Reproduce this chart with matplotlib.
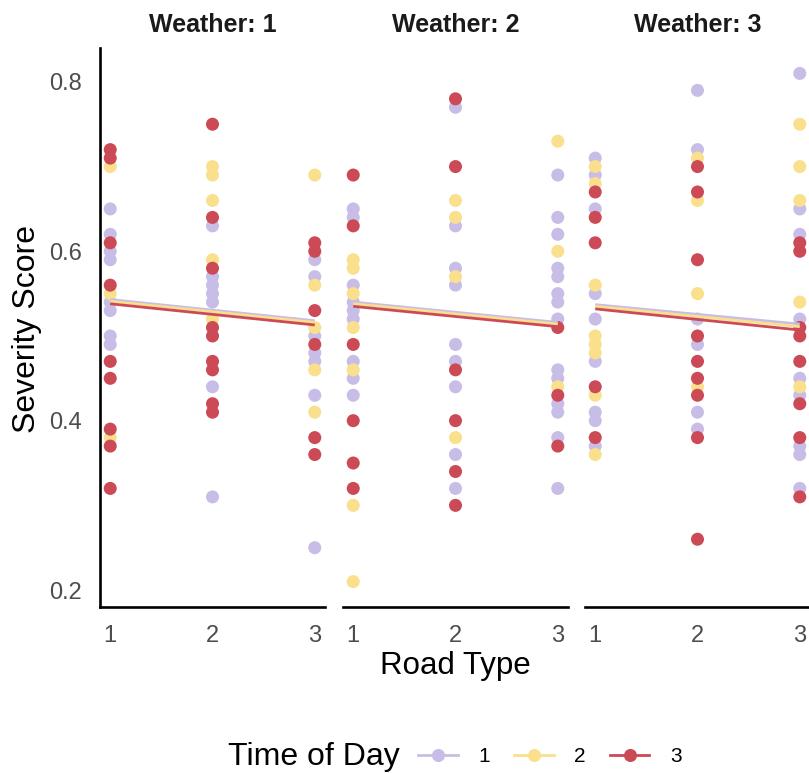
import numpy as np
import matplotlib
matplotlib.use('Agg')
import matplotlib.pyplot as plt
from matplotlib.lines import Line2D
from matplotlib import font_manager

# pick a narrow sans if the system has one
_names = {f.name for f in font_manager.fontManager.ttflist}
FONT = 'Liberation Sans Narrow' if 'Liberation Sans Narrow' in _names else 'Liberation Sans'
plt.rcParams['font.family'] = [FONT, 'DejaVu Sans']

# ---------------------------------------------------------------------------
# Severity scores, per weather panel -> [road 1, road 2, road 3] for each time
# ---------------------------------------------------------------------------
W1_T1 = [[0.65, 0.62, 0.60, 0.59, 0.54, 0.53, 0.50, 0.49],
         [0.63, 0.57, 0.56, 0.55, 0.54, 0.44, 0.31],
         [0.59, 0.57, 0.50, 0.48, 0.47, 0.43, 0.25]]
W1_T2 = [[0.70, 0.55, 0.38],
         [0.70, 0.69, 0.66, 0.59, 0.52],
         [0.69, 0.56, 0.51, 0.46, 0.41]]
W1_T3 = [[0.72, 0.71, 0.61, 0.56, 0.47, 0.45, 0.39, 0.37, 0.32],
         [0.75, 0.64, 0.58, 0.51, 0.50, 0.47, 0.46, 0.42, 0.41],
         [0.61, 0.60, 0.53, 0.49, 0.38, 0.36]]

W2_T1 = [[0.65, 0.64, 0.56, 0.54, 0.53, 0.52, 0.47, 0.45, 0.43],
         [0.77, 0.63, 0.58, 0.56, 0.49, 0.47, 0.44, 0.36, 0.32],
         [0.69, 0.64, 0.62, 0.58, 0.57, 0.55, 0.54, 0.52, 0.46, 0.45, 0.42, 0.41, 0.38, 0.32]]
W2_T2 = [[0.59, 0.58, 0.55, 0.51, 0.46, 0.30, 0.21],
         [0.66, 0.64, 0.57, 0.38],
         [0.73, 0.60, 0.44]]
W2_T3 = [[0.69, 0.63, 0.49, 0.40, 0.35, 0.32],
         [0.78, 0.70, 0.46, 0.40, 0.34, 0.30],
         [0.51, 0.43, 0.37]]

W3_T1 = [[0.71, 0.69, 0.65, 0.55, 0.52, 0.47, 0.41, 0.40, 0.37],
         [0.79, 0.72, 0.52, 0.49, 0.41, 0.39],
         [0.81, 0.65, 0.62, 0.52, 0.45, 0.43, 0.37, 0.36, 0.32]]
W3_T2 = [[0.70, 0.68, 0.56, 0.50, 0.49, 0.48, 0.43, 0.36],
         [0.71, 0.66, 0.55, 0.44],
         [0.75, 0.70, 0.66, 0.54, 0.44]]
W3_T3 = [[0.67, 0.64, 0.61, 0.44, 0.38],
         [0.70, 0.67, 0.59, 0.50, 0.47, 0.45, 0.43, 0.38, 0.26],
         [0.61, 0.60, 0.51, 0.50, 0.47, 0.42, 0.38, 0.31]]

PANELS = [[W1_T1, W1_T2, W1_T3], [W2_T1, W2_T2, W2_T3], [W3_T1, W3_T2, W3_T3]]

# fitted trend (lm) at road 1 and road 3, per panel, per time of day
FIT_START = [[0.543, 0.541, 0.538], [0.540, 0.538, 0.535], [0.537, 0.535, 0.532]]
FIT_END   = [[0.518, 0.516, 0.513], [0.516, 0.514, 0.511], [0.514, 0.511, 0.507]]

ROADS     = [1, 2, 3]
TIMES     = ['1', '2', '3']
WEATHERS  = ['Weather: 1', 'Weather: 2', 'Weather: 3']
Y_TICKS   = [0.2, 0.4, 0.6, 0.8]

COLORS = ['#c8bde6', '#fadf8c', '#cc4a56']

# ---------------------------------------------------------------------------
fig = plt.figure(figsize=(8.09, 7.73), dpi=100)
W, H = 809, 773

lefts = [100 / W, 343 / W, 585 / W]
width = 225 / W
bottom = 1 - 607 / H
height = (607 - 48) / H

axes = []
for p, (panel, left) in enumerate(zip(PANELS, lefts)):
    ax = fig.add_axes([left, bottom, width, height])
    axes.append(ax)

    for t, series in enumerate(panel):
        xs, ys = [], []
        for road, vals in zip(ROADS, series):
            xs += [road] * len(vals)
            ys += vals
        ax.scatter(xs, ys, s=88, color=COLORS[t], edgecolor='none', zorder=2,
                   clip_on=False)

    for t in range(len(TIMES)):
        ax.plot([ROADS[0], ROADS[-1]], [FIT_START[p][t], FIT_END[p][t]],
                color=COLORS[t], lw=2.0, zorder=3, solid_capstyle='butt')

    ax.set_xlim(0.9, 3.1)
    ax.set_ylim(0.18, 0.84)
    ax.set_xticks(ROADS)
    ax.set_xticklabels([str(r) for r in ROADS])
    ax.set_yticks(Y_TICKS)
    ax.tick_params(length=0, labelsize=17, labelcolor='#4d4d4d')
    ax.tick_params(axis='x', pad=13)
    ax.tick_params(axis='y', pad=13)
    for side in ['top', 'right']:
        ax.spines[side].set_visible(False)
    ax.spines['bottom'].set_linewidth(1.9)
    ax.spines['left'].set_linewidth(1.9)
    if p > 0:
        ax.spines['left'].set_visible(False)
        ax.set_yticklabels([])
    else:
        ax.set_yticklabels([f'{v:.1f}' for v in Y_TICKS])
    ax.set_facecolor('none')
    fig.text(left + width / 2, 1 - 25 / H, WEATHERS[p], fontsize=18,
             fontweight='bold', color='#1a1a1a', ha='center', va='center')

fig.text(27 / W, 1 - 329 / H, 'Severity Score', fontsize=23, rotation=90,
         ha='center', va='center')
fig.text(455 / W, 1 - 666 / H, 'Road Type', fontsize=22.5,
         ha='center', va='center')

# legend along the bottom: title text followed by the three keys
fig.text(228 / W, 1 - 757 / H, 'Time of Day', fontsize=23,
         ha='left', va='center')
handles = [Line2D([], [], color=c, lw=2.0, marker='o', markersize=9.4,
                  markeredgewidth=0) for c in COLORS]
fig.legend(handles, TIMES, loc='center left', ncol=3, frameon=False,
           bbox_to_anchor=(418 / W, 1 - 757 / H), fontsize=15,
           handlelength=1.9, handletextpad=1.0, columnspacing=1.15,
           borderaxespad=0, borderpad=0)

fig.savefig('out.png', dpi=100)
